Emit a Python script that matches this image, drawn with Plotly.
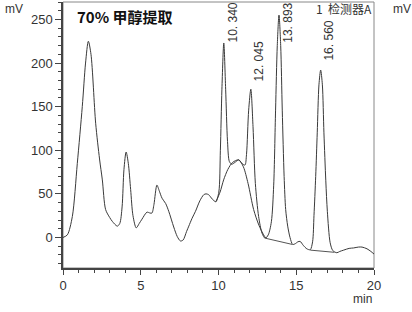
import plotly.graph_objects as go

# Chromatogram signal (time in min, signal in mV)
time_min = [0.0, 0.28, 0.6, 0.92, 1.24, 1.45, 1.63, 1.8, 2.1, 2.35, 2.53, 2.74, 3.0, 3.17, 3.49, 3.65,
            3.8, 3.92, 4.06, 4.2, 4.35, 4.5, 4.71, 4.9, 5.08, 5.4, 5.6, 5.72, 5.85, 6.04, 6.2, 6.37,
            6.6, 6.8, 7.12, 7.35, 7.55, 7.72, 7.95, 8.09, 8.3, 8.52, 8.8, 9.05, 9.2, 9.37, 9.6, 9.83,
            10.02, 10.12, 10.22, 10.34, 10.46, 10.58, 10.7, 10.85, 11.05, 11.3, 11.5, 11.7, 11.8, 11.94,
            12.08, 12.22, 12.37, 12.58, 12.8, 13.0, 13.2, 13.4, 13.55, 13.67, 13.78, 13.89, 14.0, 14.1,
            14.22, 14.32, 14.45, 14.6, 14.77, 14.95, 15.1, 15.25, 15.45, 15.68, 15.9, 16.05, 16.14, 16.25,
            16.35, 16.46, 16.57, 16.68, 16.78, 16.9, 17.0, 17.18, 17.35, 17.61, 17.8, 18.05, 18.4, 18.69,
            19.0, 19.23, 19.55, 19.8, 20.0]
signal_mv = [0, 3, 24, 85, 150, 200, 225, 210, 131, 90, 66, 32, 23, 18.5, 13, 16,
             35, 78, 98, 85, 55, 25, 11, 16, 21, 29, 28, 28, 38, 60, 53, 45,
             39, 30, 12, 1, -4, -3, 7, 13, 22, 30, 42, 49, 50, 49, 44, 41,
             52, 100, 170, 223, 170, 110, 87, 84, 86, 89, 85, 83, 95, 146,
             170, 127, 62, 24, 5, -1, 3, 18, 60, 146, 220, 255, 220, 146,
             70, 32, 13, 0, -8, -7, -5, -4.5, -9, -13, -14, -5, 25, 70,
             120, 175, 192, 175, 120, 65, 30, -6, -15, -17.5, -16, -14.5, -12.5, -12,
             -11, -11, -13, -16, -19]

# Integration baselines
hump_t = [9.83, 10.1, 10.33, 10.6, 10.9, 11.3, 11.6, 11.9, 12.26, 12.6, 12.9, 13.05]
hump_v = [41, 52, 66, 78, 86, 89, 81, 62, 32, 14, 3, -1]
base_t = [13.05, 14.75, None, 15.9, 17.45]
base_v = [-1, -8, None, -14.5, -17]

# Peak labels
peak_times = [10.340, 12.045, 13.893, 16.560]
peak_labels = ["10. 340", "12. 045", "13. 893", "16. 560"]
label_base = [221, 177, 221, 200]

x_ticks = [0, 5, 10, 15, 20]
y_ticks = [0, 50, 100, 150, 200, 250]

line_col = "#3a3a3a"
font_fam = "Liberation Sans, Arial, sans-serif"

fig = go.Figure()
fig.add_trace(go.Scatter(x=hump_t, y=hump_v, mode="lines",
                         line=dict(color=line_col, width=1, shape="spline", smoothing=0.8),
                         hoverinfo="skip"))
fig.add_trace(go.Scatter(x=base_t, y=base_v, mode="lines",
                         line=dict(color="#555555", width=1), hoverinfo="skip"))
fig.add_trace(go.Scatter(x=time_min, y=signal_mv, mode="lines",
                         line=dict(color=line_col, width=1, shape="spline", smoothing=0.8)))

for t, lab, yb in zip(peak_times, peak_labels, label_base):
    fig.add_annotation(x=t, y=yb, xref="x", yref="y", text=lab, showarrow=False,
                       textangle=-90, xanchor="center", yanchor="bottom", xshift=9,
                       font=dict(family=font_fam, size=12, color="#333333"))

fig.add_annotation(x=0.04, y=0.944, xref="paper", yref="paper", text="<b>70% 甲醇提取</b>",
                   showarrow=False, xanchor="left", yanchor="middle",
                   font=dict(family="Noto Sans CJK SC", size=15, color="#111111"))
fig.add_annotation(x=1.0, y=0.974, xref="paper", yref="paper", text="1  检测器A",
                   showarrow=False, xanchor="right", yanchor="middle",
                   font=dict(family="Noto Sans CJK SC, " + font_fam, size=12, color="#333333"))
fig.add_annotation(x=-0.159, y=0.974, xref="paper", yref="paper", text="mV",
                   showarrow=False, xanchor="center", yanchor="middle",
                   font=dict(family=font_fam, size=12, color="#333333"))
fig.add_annotation(x=1.09, y=0.974, xref="paper", yref="paper", text="mV",
                   showarrow=False, xanchor="center", yanchor="middle",
                   font=dict(family=font_fam, size=12, color="#333333"))
fig.add_annotation(x=1.0, y=-0.118, xref="paper", yref="paper", text="min",
                   showarrow=False, xanchor="right", yanchor="middle",
                   font=dict(family=font_fam, size=12, color="#333333"))

# frame (top and right)
fig.add_shape(type="rect", xref="paper", yref="paper", x0=0, y0=0, x1=1, y1=1,
              line=dict(color="#888888", width=1), layer="below")

fig.update_layout(
    width=412, height=312,
    margin=dict(l=63, r=38, t=2, b=44),
    paper_bgcolor="white", plot_bgcolor="white",
    showlegend=False,
    font=dict(family=font_fam, size=13, color="#333333"),
    xaxis=dict(range=[0, 20], tickvals=x_ticks, ticks="outside", ticklen=5, tickwidth=1,
               tickcolor="#444444", showline=True, linecolor="#444444", linewidth=1.5,
               showgrid=False, zeroline=False,
               minor=dict(dtick=1, ticks="outside", ticklen=3, tickcolor="#444444", showgrid=False),
               tickfont=dict(size=13, color="#333333")),
    yaxis=dict(range=[-35, 270], tickvals=y_ticks, ticks="outside", ticklen=6, tickwidth=1,
               tickcolor="#444444", showline=True, linecolor="#444444", linewidth=1.5,
               showgrid=False, zeroline=False,
               minor=dict(dtick=10, ticks="outside", ticklen=3, tickcolor="#444444", showgrid=False),
               tickfont=dict(size=13, color="#333333")),
)

fig.write_html("out.html")
